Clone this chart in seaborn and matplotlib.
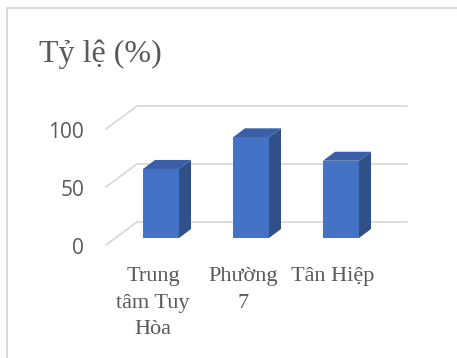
import matplotlib
matplotlib.use("Agg")
import matplotlib.pyplot as plt
import seaborn as sns
import pandas as pd
from matplotlib.transforms import ScaledTranslation, IdentityTransform
from matplotlib.patches import Polygon
from matplotlib.lines import Line2D

# ---- data ----
categories = ["Trung tâm Tuy Hòa", "Phường 7", "Tân Hiệp"]
tick_labels = ["Trung\ntâm Tuy\nHòa", "Phường\n7", "Tân Hiệp"]
values = [59.5, 86.8, 66.6]
yticks = [0, 50, 100]
title = "Tỷ lệ (%)"

FRONT = "#4472C4"
SIDE = "#2F5089"
TOP = "#3A5FA6"
GRID = "#D9D9D9"
TXT = "#595959"

sns.set_theme(style="white")
W, H, DPI = 457, 358, 100
fig = plt.figure(figsize=(W / DPI, H / DPI), dpi=DPI)
fig.patch.set_facecolor("white")

ax = fig.add_axes([116 / W, 120 / H, 270 / W, 116 / H])
df = pd.DataFrame({"cat": categories, "val": values})
sns.barplot(data=df, x="cat", y="val", width=0.4, color=FRONT, saturation=1,
            ax=ax, zorder=3, linewidth=0)
ax.set_xlim(-0.5, 2.5)
ax.set_ylim(0, 100)
ax.patch.set_visible(False)
for s in ax.spines.values():
    s.set_visible(False)
ax.set_xlabel("")
ax.set_ylabel("")

# offsets in pixels (matplotlib display, y up)
BACK = (21, 16)
FRONTPL = (-10, -7)
DEPTH = (12, 9)

fig.canvas.draw()
idt = IdentityTransform()

# back wall gridlines + floor-side diagonals
for v in yticks:
    x0, y0 = ax.transData.transform((-0.5, v))
    x1, y1 = ax.transData.transform((2.5, v))
    ax.add_line(Line2D([x0 + BACK[0], x1 + BACK[0]], [y0 + BACK[1], y1 + BACK[1]],
                       transform=idt, color=GRID, lw=1.3, zorder=1, clip_on=False))
    ax.add_line(Line2D([x0 + FRONTPL[0], x0 + BACK[0]], [y0 + FRONTPL[1], y0 + BACK[1]],
                       transform=idt, color=GRID, lw=1.3, zorder=1, clip_on=False))

# 3D sides and tops of bars
for p in list(ax.patches):
    bx = p.get_x()
    bw = p.get_width()
    bh = p.get_height()
    (xl, yb) = ax.transData.transform((bx, 0))
    (xr, yt) = ax.transData.transform((bx + bw, bh))
    dx, dy = DEPTH
    side = Polygon([(xr, yb), (xr, yt), (xr + dx, yt + dy), (xr + dx, yb + dy)],
                   closed=True, transform=idt, facecolor=SIDE, edgecolor="none",
                   zorder=2.9, clip_on=False)
    top = Polygon([(xl, yt), (xr, yt), (xr + dx, yt + dy), (xl + dx, yt + dy)],
                  closed=True, transform=idt, facecolor=TOP, edgecolor="none",
                  zorder=2.9, clip_on=False)
    ax.add_patch(side)
    ax.add_patch(top)

# y ticks at front plane
ax.set_yticks(yticks)
ax.set_yticklabels([str(t) for t in yticks], fontsize=15, color=TXT,
                   family=["Open Sans", "DejaVu Sans"])
ax.tick_params(axis="y", length=0, pad=32 * 0.72)
for lab in ax.get_yticklabels():
    lab.set_transform(lab.get_transform() + ScaledTranslation(0, -8 / DPI, fig.dpi_scale_trans))

# x ticks
ax.set_xticks(range(len(categories)))
ax.set_xticklabels(tick_labels, fontsize=16, color=TXT,
                   family=["Liberation Serif", "DejaVu Serif"], linespacing=1.55)
ax.tick_params(axis="x", length=0, pad=29 * 0.72)
for lab in ax.get_xticklabels():
    lab.set_transform(lab.get_transform() + ScaledTranslation(-8 / DPI, 0, fig.dpi_scale_trans))

# title
fig.text(39 / W, 1 - 62 / H, title, fontsize=23, color=TXT,
         family=["Liberation Serif", "DejaVu Serif"], ha="left", va="baseline")

# chart border (top and left visible)
fig.add_artist(Line2D([7.5 / W, 1], [1 - 7.5 / H, 1 - 7.5 / H], transform=fig.transFigure,
                      color=GRID, lw=1.5))
fig.add_artist(Line2D([7.5 / W, 7.5 / W], [0, 1 - 7.5 / H], transform=fig.transFigure,
                      color=GRID, lw=1.5))

fig.savefig("out.png", dpi=DPI, facecolor="white")
